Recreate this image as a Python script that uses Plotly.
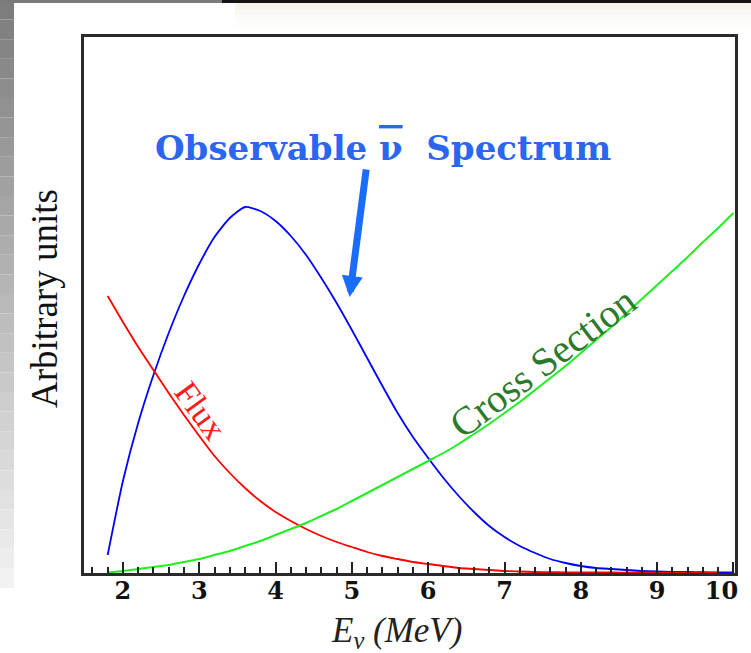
import plotly.graph_objects as go

# Neutrino energy grid (MeV)
energy = [1.8, 2.0, 2.2, 2.4, 2.6, 2.8, 3.0, 3.2, 3.4, 3.6, 3.8, 4.0, 4.2, 4.4,
          4.6, 4.8, 5.0, 5.2, 5.4, 5.6, 5.8, 6.0, 6.2, 6.4, 6.6, 6.8, 7.0, 7.2,
          7.4, 7.6, 7.8, 8.0, 8.2, 8.4, 8.6, 8.8, 9.0, 9.2, 9.4, 9.6, 9.8, 10.0]

# Observable anti-neutrino spectrum (arbitrary units)
spectrum = [18, 92, 150, 198, 240, 277, 309, 336, 355, 366, 362, 352, 337, 318,
            295, 270, 243, 215, 187, 160, 136, 115, 95, 77, 61, 47, 36, 27,
            20, 14, 10, 7, 5, 4, 3, 2, 1.5, 1.2, 1.0, 0.8, 0.6, 0.5]

# Reactor flux (arbitrary units)
flux = [277, 251, 226, 203, 180, 158, 137, 117, 100, 85, 72, 61, 52, 44,
        37, 31, 26, 21, 17, 14, 11, 9, 7, 5, 4, 3, 2, 1.5,
        1.0, 0.8, 0.7, 0.6, 0.5, 0.5, 0.4, 0.4, 0.3, 0.3, 0.3, 0.3, 0.3, None]

# Inverse beta decay cross section (arbitrary units)
cross_section = [0.5, 2, 4, 6, 8, 11, 14, 18, 22, 27, 32, 38, 44, 50,
                 57, 64, 72, 80, 88, 96, 104, 112, 120, 129, 139, 149, 160, 171,
                 183, 195, 207, 220, 233, 246, 260, 274, 288, 302, 316, 331, 345, 360]

x_ticks = [2, 3, 4, 5, 6, 7, 8, 9, 10]
x_range = [1.49, 10.02]
y_range = [0, 536]

SERIF = "Liberation Serif"
SERIF_BOLD = "DejaVu Serif"
W, H = 751, 653
ML, MR, MT, MB = 84, 16, 37, 80
PW, PH = W - ML - MR, H - MT - MB


def px(xp):
    return (xp - ML) / PW


def py(yp):
    return (H - MB - yp) / PH


fig = go.Figure()
fig.add_trace(go.Scatter(x=energy, y=spectrum, mode="lines",
                         line=dict(color="#0000ff", width=1.8, shape="spline", smoothing=0.6)))
fig.add_trace(go.Scatter(x=energy, y=flux, mode="lines",
                         line=dict(color="#ff0000", width=1.8, shape="spline", smoothing=0.6)))
fig.add_trace(go.Scatter(x=energy, y=cross_section, mode="lines",
                         line=dict(color="#1ef01e", width=2, shape="spline", smoothing=0.6)))

shapes = []
# slide-style backdrop: grey gradient strip on the left edge
n_steps = 30
for i in range(n_steps):
    y0 = i * 588 / n_steps
    y1 = (i + 1) * 588 / n_steps
    g = int(125 + (242 - 125) * i / (n_steps - 1))
    shapes.append(dict(type="rect", xref="paper", yref="paper", layer="below",
                       x0=px(0), x1=px(14), y0=py(y1), y1=py(y0),
                       fillcolor=f"rgb({g},{g},{g})", line=dict(width=0)))
# thin top band
shapes.append(dict(type="rect", xref="paper", yref="paper", layer="below",
                   x0=px(0), x1=px(222), y0=py(3), y1=py(0),
                   fillcolor="#7b7b7b", line=dict(width=0)))
shapes.append(dict(type="rect", xref="paper", yref="paper", layer="below",
                   x0=px(222), x1=px(751), y0=py(3), y1=py(0),
                   fillcolor="#151515", line=dict(width=0)))
for i, a in enumerate([0.45, 0.32, 0.2, 0.1]):
    shapes.append(dict(type="rect", xref="paper", yref="paper", layer="below",
                       x0=px(235), x1=px(751), y0=py(3 + 6 * (i + 1)), y1=py(3 + 6 * i),
                       fillcolor=f"rgba(236,236,220,{a})", line=dict(width=0)))

nubar = "<span style='text-decoration:overline'>ν</span>"

# the last label sits just inside the right frame
tick_text = [f"<b>{t}</b>" for t in x_ticks]
tick_text[-1] = tick_text[-1] + "\u2003"

annotations = [
    dict(text="Arbitrary units", xref="paper", yref="paper", x=px(44), y=py(299),
         textangle=-90, showarrow=False, xanchor="center", yanchor="middle",
         font=dict(family=SERIF, size=37, color="#111111")),
    dict(text="<i>E<sub>ν</sub> (MeV)</i>", xref="paper", yref="paper", x=px(396), y=py(632),
         showarrow=False, xanchor="center", yanchor="middle",
         font=dict(family=SERIF, size=35, color="#222222")),
    dict(text=f"<b>Observable {nubar}  Spectrum</b>", x=5.41, y=425, xref="x", yref="y",
         showarrow=False, xanchor="center", yanchor="middle",
         font=dict(family=SERIF_BOLD, size=34, color="#2a66f0")),
    dict(text="", x=4.97, y=276, ax=5.19, ay=405, xref="x", yref="y",
         axref="x", ayref="y", showarrow=True, arrowhead=2, arrowsize=0.6,
         arrowwidth=7, arrowcolor="#1a6cff"),
    dict(text="Flux", x=3.02, y=163, xref="x", yref="y", textangle=54,
         showarrow=False, xanchor="center", yanchor="middle",
         font=dict(family=SERIF, size=34, color="#ff1a1a")),
    dict(text="Cross Section", x=7.50, y=211, xref="x", yref="y", textangle=-37,
         showarrow=False, xanchor="center", yanchor="middle",
         font=dict(family=SERIF, size=40, color="#2b7a2b")),
]

fig.update_layout(
    width=W, height=H,
    margin=dict(l=ML, r=MR, t=MT, b=MB, autoexpand=False),
    paper_bgcolor="white", plot_bgcolor="white",
    showlegend=False,
    shapes=shapes,
    annotations=annotations,
    xaxis=dict(range=x_range, tickvals=x_ticks, ticktext=tick_text,
               automargin=False, ticklabeloverflow="allow",
               ticks="inside", ticklen=11, tickwidth=1.5, tickcolor="#222222",
               ticklabelstandoff=-6,
               minor=dict(dtick=0.2, tick0=0, ticks="inside", ticklen=6,
                          tickwidth=1.5, tickcolor="#222222"),
               showgrid=False, zeroline=False,
               showline=True, mirror=True, linecolor="#2a2a2a", linewidth=2.5,
               tickfont=dict(family=SERIF_BOLD, size=24, color="#111111")),
    yaxis=dict(range=y_range, showticklabels=False, ticks="", showgrid=False,
               automargin=False,
               zeroline=False, showline=True, mirror=True,
               linecolor="#2a2a2a", linewidth=2.5),
)

fig.write_html("out.html")
